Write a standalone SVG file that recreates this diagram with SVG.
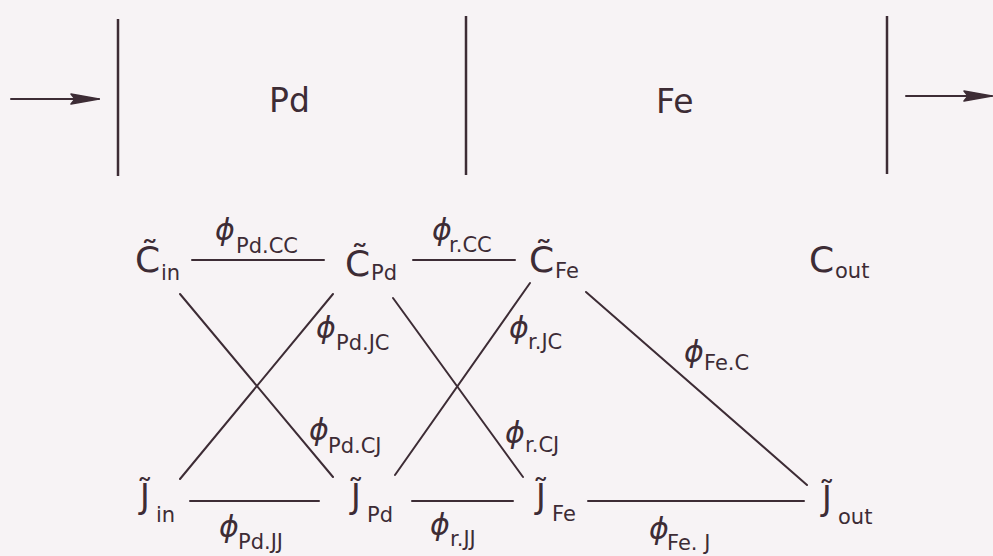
<svg xmlns="http://www.w3.org/2000/svg" width="993" height="556" viewBox="0 0 993 556">
<style>
.ln{stroke:#3d2c35;stroke-width:2;fill:none;stroke-linecap:round}
.wall{stroke:#3d2c35;stroke-width:2.5;fill:none}
.main{font-family:"DejaVu Sans",sans-serif;font-size:36px;fill:#3d2c35}
.jm{font-family:"DejaVu Sans",sans-serif;font-size:33px;fill:#3d2c35}
.sub{font-family:"DejaVu Sans",sans-serif;font-size:21px;fill:#3d2c35}
.phi{font-family:"DejaVu Sans",sans-serif;font-size:30px;font-style:italic;fill:#3d2c35}
.ps{font-family:"DejaVu Sans",sans-serif;font-size:21px;fill:#3d2c35}
.big{font-family:"DejaVu Sans",sans-serif;font-size:33px;fill:#3d2c35}
</style>
<defs>
<marker id="ah" viewBox="0 0 30 12" refX="29" refY="6" markerWidth="30" markerHeight="12" markerUnits="userSpaceOnUse" orient="auto">
<path d="M1,1 L29,6 L1,11 L5,6 Z" fill="#3d2c35" stroke="#3d2c35" stroke-width="1.5" stroke-linejoin="round"/>
</marker>
</defs>
<rect width="993" height="556" fill="#f7f3f5"/>
<g id="membrane">
<line class="wall" x1="118" y1="19" x2="118" y2="176"/>
<line class="wall" x1="466" y1="16" x2="466" y2="175"/>
<line class="wall" x1="887" y1="16" x2="887" y2="174"/>
<line class="ln" x1="11" y1="99" x2="99" y2="99" marker-end="url(#ah)"/>
<line class="ln" x1="906" y1="96" x2="992" y2="96" marker-end="url(#ah)"/>
<text class="big" x="269" y="112">Pd</text>
<text class="big" x="656" y="113">Fe</text>
</g>
<g id="connectors">
<g id="e-pd-cc"><line class="ln" x1="192" y1="260" x2="324" y2="260"/><text class="phi" x="215" y="240">ϕ</text><text class="ps" x="236" y="253">Pd.CC</text></g>
<g id="e-r-cc"><line class="ln" x1="413" y1="260" x2="515" y2="260"/><text class="phi" x="432" y="240">ϕ</text><text class="ps" x="449" y="252">r.CC</text></g>
<g id="e-pd-jc"><line class="ln" x1="180" y1="479" x2="333" y2="294"/><text class="phi" x="316" y="338">ϕ</text><text class="ps" x="336" y="350">Pd.JC</text></g>
<g id="e-pd-cj"><line class="ln" x1="180" y1="294" x2="333" y2="477"/><text class="phi" x="309" y="440">ϕ</text><text class="ps" x="328" y="453">Pd.CJ</text></g>
<g id="e-r-jc"><line class="ln" x1="395" y1="475" x2="530" y2="283"/><text class="phi" x="509" y="338">ϕ</text><text class="ps" x="528" y="349">r.JC</text></g>
<g id="e-r-cj"><line class="ln" x1="393" y1="298" x2="523" y2="477"/><text class="phi" x="505" y="443">ϕ</text><text class="ps" x="525" y="452">r.CJ</text></g>
<g id="e-fe-c"><line class="ln" x1="586" y1="292" x2="807" y2="485"/><text class="phi" x="684" y="362">ϕ</text><text class="ps" x="704" y="370">Fe.C</text></g>
<g id="e-pd-jj"><line class="ln" x1="190" y1="501" x2="319" y2="501"/><text class="phi" x="219" y="537">ϕ</text><text class="ps" x="238" y="549">Pd.JJ</text></g>
<g id="e-r-jj"><line class="ln" x1="412" y1="501" x2="513" y2="501"/><text class="phi" x="430" y="535">ϕ</text><text class="ps" x="450" y="546">r.JJ</text></g>
<g id="e-fe-j"><line class="ln" x1="588" y1="501" x2="804" y2="501"/><text class="phi" x="649" y="539">ϕ</text><text class="ps" x="667" y="550">Fe. J</text></g>
</g>
<g id="n-c-in"><text class="main" x="135" y="272">C̃</text><text class="sub" x="161" y="280">in</text></g>
<g id="n-c-pd"><text class="main" x="345" y="276">C̃</text><text class="sub" x="371" y="280">Pd</text></g>
<g id="n-c-fe"><text class="main" x="529" y="272">C̃</text><text class="sub" x="555" y="278">Fe</text></g>
<g id="n-c-out"><text class="main" x="809" y="272">C</text><text class="sub" x="835" y="278">out</text></g>
<g id="n-j-in"><text class="jm" x="140" y="508">J̃</text><text class="sub" x="156" y="522">in</text></g>
<g id="n-j-pd"><text class="jm" x="351" y="508">J̃</text><text class="sub" x="367" y="522">Pd</text></g>
<g id="n-j-fe"><text class="jm" x="536" y="508">J̃</text><text class="sub" x="552" y="521">Fe</text></g>
<g id="n-j-out"><text class="jm" x="822" y="510">J̃</text><text class="sub" x="838" y="524">out</text></g>
</svg>
